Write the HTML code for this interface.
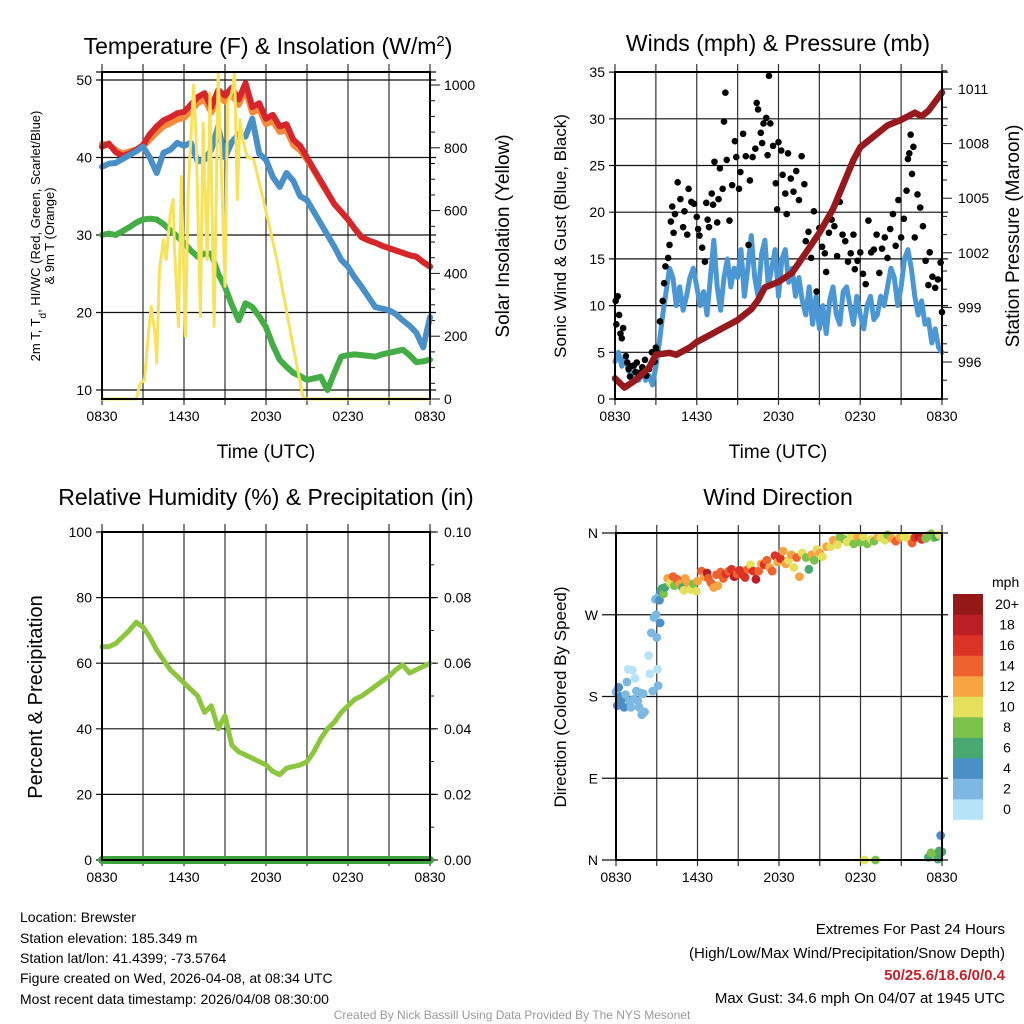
<!DOCTYPE html>
<html><head><meta charset="utf-8">
<style>
html,body{margin:0;padding:0;background:#fff;}
svg{display:block;font-family:"Liberation Sans",sans-serif;}
</style></head>
<body>
<svg id="fig" width="1024" height="1024" viewBox="0 0 1024 1024" xmlns="http://www.w3.org/2000/svg">
<rect x="0" y="0" width="1024" height="1024" fill="#fff"/>
<g id="marks"></g>
<text x="268" y="54" font-size="23" text-anchor="middle">Temperature (F) &amp; Insolation (W/m<tspan baseline-shift="super" font-size="15">2</tspan>)</text>
<text x="778" y="51" font-size="23" text-anchor="middle">Winds (mph) &amp; Pressure (mb)</text>
<text x="266" y="505" font-size="23" text-anchor="middle">Relative Humidity (%) &amp; Precipitation (in)</text>
<text x="778" y="505" font-size="23" text-anchor="middle">Wind Direction</text>
<text x="266" y="458" font-size="19" text-anchor="middle">Time (UTC)</text>
<text x="778" y="458" font-size="19" text-anchor="middle">Time (UTC)</text>
<text transform="translate(40,236) rotate(-90)" font-size="13" text-anchor="middle">2m T, T<tspan baseline-shift="sub" font-size="10">d</tspan>, HI/WC (Red, Green, Scarlet/Blue)</text>
<text transform="translate(54,236) rotate(-90)" font-size="13" text-anchor="middle">&amp; 9m T (Orange)</text>
<text transform="translate(509,236) rotate(-90)" font-size="19" text-anchor="middle">Solar Insolation (Yellow)</text>
<text transform="translate(566,236) rotate(-90)" font-size="17" text-anchor="middle">Sonic Wind &amp; Gust (Blue, Black)</text>
<text transform="translate(1019,236) rotate(-90)" font-size="19" text-anchor="middle">Station Pressure (Maroon)</text>
<text transform="translate(42,697) rotate(-90)" font-size="20" text-anchor="middle">Percent &amp; Precipitation</text>
<text transform="translate(566,697) rotate(-90)" font-size="17" text-anchor="middle">Direction (Colored By Speed)</text>
<g font-size="14">
<text x="20" y="922">Location: Brewster</text>
<text x="20" y="943">Station elevation: 185.349 m</text>
<text x="20" y="963">Station lat/lon: 41.4399; -73.5764</text>
<text x="20" y="983">Figure created on Wed, 2026-04-08, at 08:34 UTC</text>
<text x="20" y="1004">Most recent data timestamp: 2026/04/08 08:30:00</text>
</g>
<g font-size="15" text-anchor="end">
<text x="1005" y="934">Extremes For Past 24 Hours</text>
<text x="1005" y="958">(High/Low/Max Wind/Precipitation/Snow Depth)</text>
<text x="1005" y="980" fill="#c8202a" font-weight="bold">50/25.6/18.6/0/0.4</text>
<text x="1005" y="1003">Max Gust: 34.6 mph On 04/07 at 1945 UTC</text>
</g>
<text x="512" y="1019" font-size="12" fill="#999" text-anchor="middle">Created By Nick Bassill Using Data Provided By The NYS Mesonet</text>
</svg>
<script>
// ---- data ----
const timeTickLabels = ["0830","1430","2030","0230","0830"];
const tempTicks = [10,20,30,40,50];
const insolTicks = [0,200,400,600,800,1000];
const windTicks = [0,5,10,15,20,25,30,35];
const presTicks = [996,999,1002,1005,1008,1011];
const rhTicks = [0,20,40,60,80,100];
const precipTickLabels = ["0.00","0.02","0.04","0.06","0.08","0.10"];
const dirTickLabels = ["N","E","S","W","N"];
const speedLegendLabels = ["0","2","4","6","8","10","12","14","16","18","20+"];
const speedColors = ["#b6e3f8","#7cb8e2","#4a8fc6","#49a86f","#7bc24a","#e5e05b","#f6a542","#f0622d","#dd3327","#bb1e25","#951818"];

const tempRed = [41.4,41.8,40.7,40.2,40.5,41,41.6,43,44,44.8,45.2,45.7,45.9,46.8,47.8,48.3,46.5,48.7,48,49,47.5,49.6,46.5,47,45,45.5,44,44.3,42.3,41.5,40,38.5,37,35.5,34,33,32,30.8,29.7,29.3,29,28.6,28.3,28,27.7,27.4,27.2,26.5,25.9];
const temp9m = [41.8,41.6,41,40.5,40.8,41,41.4,42.3,43.2,44,44.4,44.9,45.1,46,47,47.5,45.8,47.9,47.2,48.1,46.8,48.7,45.8,46.2,44.3,44.7,43.3,43.5,41.6,40.9,39.7,38.3,36.8,35.4,34,33,32,30.8,29.7,29.3,29,28.6,28.3,28,27.7,27.4,27.2,26.5,26];
const windChill = [38.8,39.2,39.3,39.8,40.3,40.8,41.4,40,38,40.6,41,41.9,41.5,41.9,39.5,39.7,41,44,40,42,43,42.7,45,40.5,39.7,37.5,36.2,38,37,35,34.5,33,31.5,30,28.5,26.8,25.9,24.5,23.3,22,20.7,20.5,20.3,19.8,19,18.3,17.4,15.5,19.4];
const dewpoint = [30,30.2,30,30.5,31,31.6,32,32.1,32,31.4,30.6,29.8,29,28,27.2,27.6,27.6,25,23.3,21,19,21.2,20.7,19.5,18.1,15.8,13.9,13,12.2,11.8,11.3,11.5,11.7,10,12.2,14.3,14.5,14.6,14.5,14.4,14.3,14.6,14.8,15,15.2,14.5,13.6,13.7,13.9];
const insolTimes = [0,2.5,2.8,3.1,3.4,3.6,3.9,4.0,4.2,4.5,4.7,5.0,5.2,5.3,5.6,5.8,6.1,6.3,6.7,6.9,7.2,7.4,7.7,7.9,8.2,8.5,8.8,9.0,9.2,9.5,9.7,9.9,10.1,10.3,10.6,11.1,11.8,12.8,13.8,14.7,15,24];
const insolValues = [0,0,50,60,210,295,200,115,410,507,444,592,635,486,231,709,200,656,1000,815,263,879,444,975,231,1038,635,359,943,975,1038,635,890,826,773,762,635,444,210,8,0,0];
const windSpeed = [4,5,3.5,4.5,3,2.5,3,2,3,2,2.5,1.5,3.5,6,9,11.5,14,13,10,12,9.5,11,13,14,12,10,11.5,9,13,17,12,9.5,13,15,12,14,13,16,11,14,17.5,13,11,15.5,17,12,14,16,11,15,16,12.5,14,11,13,10.5,9,12,8,11,7.5,10,7,10.5,12,9,8,11.5,12,10,8,11,9,7.5,10,11,8.5,9,11,10,12,14,13,10,12,15,16,14,11,9,10.5,8,8.5,6,7.5,5.5,5];
const pressureTimes = [0,0.7,1.5,2.5,3,4,4.5,5.5,6,7,8,9,10,10.5,11,12,13,14,15,16,17,17.5,18,19,20,21,22,22.5,23,24];
const pressureValues = [995.1,994.6,995,995.7,996.4,996.5,996.4,996.8,997.1,997.5,997.9,998.3,998.9,999.4,1000.1,1000.4,1000.9,1002,1003.1,1004.4,1006.2,1007.1,1007.8,1008.4,1009,1009.3,1009.7,1009.5,1009.8,1010.8];
const gustTimes = [0.05,0.1,0.2,0.3,0.4,0.5,0.6,0.8,0.9,1.0,1.1,1.2,1.4,1.5,1.6,1.8,2.0,2.2,2.3,2.5,2.7,2.9,3.0,3.1,3.3,3.5,3.6,3.7,3.9,4.0,4.1,4.2,4.3,4.4,4.6,4.8,5.0,5.1,5.3,5.4,5.6,5.8,6.0,6.1,6.2,6.4,6.6,6.7,6.8,6.9,7.1,7.2,7.3,7.5,7.6,7.7,7.9,8.0,8.1,8.2,8.4,8.6,8.8,8.9,9.1,9.2,9.4,9.6,9.8,9.9,10.1,10.3,10.4,10.5,10.7,10.8,10.9,11.1,11.2,11.3,11.4,11.6,11.8,11.9,12.0,12.2,12.3,12.5,12.6,12.7,12.9,13.1,13.3,13.5,13.7,13.9,14.0,14.2,14.4,14.6,14.8,15.0,15.2,15.4,15.5,15.7,15.9,16.1,16.3,16.5,16.7,16.9,17.1,17.3,17.5,17.6,17.8,18.0,18.2,18.4,18.6,18.8,19.0,19.2,19.4,19.6,19.8,20.0,20.2,20.4,20.6,20.8,21.0,21.2,21.4,21.5,21.6,21.7,21.8,21.9,22.0,22.2,22.4,22.6,22.8,23.0,23.1,23.3,23.5,23.7,23.9,24.0];
const gustValues = [10.5,8,11,9,7,6.5,7.6,4.6,3.9,3.2,2.4,3.5,3.6,2.9,3.9,2.8,3.4,4.2,2.5,3.2,5,4,5.5,5,8.3,10.5,12.4,14.2,15.1,16.5,19,20.6,17.8,19.8,23.2,21.4,18.4,20.1,17.6,22.5,21.1,20.9,19.5,18.2,17.5,16.2,14.7,21,19.2,18.4,22,20.8,25.4,18.9,21.4,24.7,22.5,29.7,32.8,25.6,19.1,22.9,27.6,25.9,22.5,24.3,28.4,26,16.5,23.4,25.9,26.8,31.7,31,28.5,27.4,29.5,30.1,26.1,34.6,29.5,27.1,23.1,20.3,27.5,26.6,24,22,19.8,26.3,23.6,22.2,24.4,21.3,26,23,16.9,17.9,15.1,20.1,11.5,18.3,16.3,15.6,13.6,17.8,19.2,18.5,15.3,21.1,17.6,16.9,14.7,15.6,17.6,13.9,14.8,15.7,13.4,12.3,19.1,15.7,16,17.6,13.5,16.1,17.3,15.1,18.2,19.8,16.4,21.3,17.3,19.3,22.3,25.7,26.3,28.3,24.1,27,17.3,21.9,20.5,18.5,14.8,12.2,15.7,13.1,11.9,12.8,14.6,9.3];
const rhValues = [65,65,66,68,70,72.5,71,68,64,61,58,56,54,52,50,45,47,40,44,35,33,32,31,30,29,27,26,28,28.5,29,30,33,37,40,42,45,47,49,50,51.5,53,54.5,56,58,59.5,57,58,59,60];
const precipValues = [0,0,0,0,0,0,0,0,0,0,0,0,0,0,0,0,0,0,0,0,0,0,0,0,0];
const dirTimes = [
 0.0,0.1,0.2,0.3,0.35,0.5,0.6,0.7,0.8,0.9,
 1.0,1.1,1.2,1.3,1.4,1.5,1.6,1.7,1.8,1.9,
 2.0,2.1,2.4,2.5,2.6,2.7,2.8,2.9,2.95,3.0,
 3.05,3.1,3.15,3.2,3.25,3.3,3.4,3.5,3.6,3.8,
 4.0,4.2,4.3,4.5,4.7,4.9,5.0,5.1,5.3,5.5,
 5.7,5.9,6.0,6.3,6.5,6.7,6.8,7.0,7.2,7.4,
 7.5,7.7,7.9,8.1,8.3,8.5,8.7,8.9,9.1,9.3,
 9.5,9.7,9.9,10.1,10.3,10.5,10.7,10.9,11.1,11.3,
 11.5,11.7,11.9,12.1,12.3,12.5,12.7,12.9,13.1,13.3,
 13.5,13.7,14.0,14.2,14.4,14.6,14.8,15.0,15.2,15.5,
 15.8,16.0,16.3,16.5,16.8,17.0,17.3,17.5,17.8,18.0,
 18.2,18.5,18.8,19.0,19.3,19.5,19.8,20.0,20.3,20.6,
 20.9,21.2,21.5,21.8,22.0,22.3,22.5,22.8,23.0,23.2,
 23.4,23.6,23.8,18.3,19.1,23.0,23.2,23.5,23.7,23.8,
 23.9,24.0];
const dirValues = [
 185,170,190,180,175,178,168,182,196,210,
 175,168,209,177,200,186,175,168,184,160,
 183,163,225,205,250,186,267,287,270,245,
 210,192,290,286,261,296,299,293,300,310,
 305,312,302,309,304,300,297,310,305,298,
 304,296,307,318,312,316,310,305,300,314,
 302,317,310,315,318,320,312,315,319,314,
 311,320,325,318,309,318,326,325,330,322,
 318,335,328,332,340,326,330,336,322,333,
 312,338,333,320,336,330,342,338,334,345,
 345,352,347,356,353,350,357,348,355,350,
 356,348,353,351,356,355,352,358,354,351,
 355,356,354,349,355,356,353,354,357,359,
 355,356,358,0,0,3,8,6,1,10,
 27,9];
const dirSpeeds = [
 3,4.5,5,4,4,5,4.5,3,2,1,
 3,3.5,1.5,2.5,1,3,2.5,3,3,2,
 3,3,1,1,2,3.5,2.5,3,3.5,3,
 1,3,3.5,4,4,5,7,8,6,13,
 10,14,8,14,12,7,10,12,13,10,
 9,10,12,15,12,19,14,15,12,14,
 12,15,14,17,14,16,18,14,16,17,
 16,15,11,16,18,14,12,17,14,12,
 15,16,12,17,13,12,10,12,11,14,
 12,10,8,7,12,8,10,12,11,12,
 10,12,10,8,8,10,10,8,12,9,
 10,8,11,8,12,11,10,8,13,14,
 12,10,10,15,16,18,17,9,8,9,
 8,7,10,10,8,6,8,8,6,7,
 4,7];

// ---- scales ----
const P1 = {x0:102, x1:430, y0:72, y1:399};
const P2 = {x0:615, x1:942, y0:72, y1:399};
const P3 = {x0:102, x1:430, y0:532, y1:860};
const P4 = {x0:616, x1:942, y0:533, y1:860};
function tx(P, t){ return P.x0 + t*(P.x1-P.x0)/24; }
function yTemp(v){ return 390 - (v-10)*7.75; }
function yIns(w){ return 399 - w*0.314; }
function yWind(v){ return 399 - v*9.34; }
function yPres(p){ return 362 - (p-996)*18.2; }
function yRH(v){ return 860 - v*3.28; }
function yPrecip(v){ return 860 - v*3280; }
function yDir(d){ return 860 - d*327/360; }

const NS = "http://www.w3.org/2000/svg";
const G = document.getElementById('marks');
function mk(tag, attrs, parent){
  const e = document.createElementNS(NS, tag);
  for (const k in attrs) e.setAttribute(k, attrs[k]);
  (parent||G).appendChild(e);
  return e;
}
function pathFrom(xs, ys){
  let d = "";
  for (let i=0;i<xs.length;i++) d += (i?"L":"M") + xs[i].toFixed(1) + " " + ys[i].toFixed(1);
  return d;
}
function evenTimes(n){ const a=[]; for(let i=0;i<n;i++) a.push(i*24/(n-1)); return a; }

function vgrid(P, name){
  for (let h=0; h<=24; h+=3){
    const l = mk('line',{x1:tx(P,h),x2:tx(P,h),y1:P.y0-8,y2:P.y1+6,stroke:'#333','stroke-width':1.2});
    
    
  }
  for (let i=0;i<timeTickLabels.length;i++){
    const t = mk('text',{x:tx(P,i*6),y:P.y1+22,'font-size':14,'text-anchor':'middle'});
    t.textContent = timeTickLabels[i];
    
    
  }
}
function hline(P, y, name, ext){
  const l = mk('line',{x1:P.x0-(ext||6),x2:P.x1+6,y1:y,y2:y,stroke:'#111','stroke-width':1.2});
  
  
}
function label(x,y,txt,anchor,name,size){
  const t = mk('text',{x:x,y:y+5,'font-size':size||14,'text-anchor':anchor});
  t.textContent = txt;
  
  
}
function rtick(x,y,len,name){
  const l = mk('line',{x1:x,x2:x+len,y1:y,y2:y,stroke:'#111','stroke-width':1});
  
  
}
function box(P,name){
  const r = mk('rect',{x:P.x0,y:P.y0,width:P.x1-P.x0,height:P.y1-P.y0,fill:'none',stroke:'#000','stroke-width':2});
  
  
}
function line(xs, ys, color, w, name){
  const p = mk('path',{d:pathFrom(xs,ys),fill:'none',stroke:color,'stroke-width':w,'stroke-linejoin':'round','stroke-linecap':'round'});
  
  
  return p;
}

// Panel 1
vgrid(P1,'temperature');
tempTicks.forEach(v=>{ hline(P1,yTemp(v),'temperature-gridline'); label(P1.x0-10,yTemp(v),String(v),'end','temperature-y-tick-label'); });
hline(P1,P1.y0,'temperature-top-line');
for (let w=0; w<=1040; w+=50) rtick(P1.x1, yIns(w), w%200===0?10:5, 'insolation-tick');
insolTicks.forEach(w=>label(P1.x1+14,yIns(w),String(w),'start','insolation-y-tick-label'));
line(evenTimes(temp9m.length).map(t=>tx(P1,t)), temp9m.map(yTemp), '#f58a3a', 6, 'series-9m-temperature');
line(evenTimes(tempRed.length).map(t=>tx(P1,t)), tempRed.map(yTemp), '#d7262b', 6, 'series-2m-temperature');
line(evenTimes(windChill.length).map(t=>tx(P1,t)), windChill.map(yTemp), '#4a90c8', 6, 'series-wind-chill');
line(evenTimes(dewpoint.length).map(t=>tx(P1,t)), dewpoint.map(yTemp), '#45ad45', 6, 'series-dewpoint');
line(insolTimes.map(t=>tx(P1,t)), insolValues.map(v=>yIns(Math.min(v,1041))), '#f7e25c', 3, 'series-solar-insolation');
box(P1,'temperature-plot-frame');

// Panel 2
vgrid(P2,'winds');
windTicks.forEach(v=>{ hline(P2,yWind(v),'wind-gridline'); label(P2.x0-10,yWind(v),String(v),'end','wind-y-tick-label'); });
for (let p=995; p<=1012; p++) rtick(P2.x1, yPres(p), (p%3===0)?10:5, 'pressure-tick');
presTicks.forEach(p=>label(P2.x1+16,yPres(p),String(p),'start','pressure-y-tick-label'));
line(evenTimes(windSpeed.length).map(t=>tx(P2,t)), windSpeed.map(yWind), '#4b97d3', 5, 'series-sonic-wind');
for (let i=0;i<Math.min(gustTimes.length,gustValues.length);i++){
  const c = mk('circle',{cx:tx(P2,gustTimes[i]),cy:yWind(gustValues[i]),r:3.3,fill:'#000'});
  
  
}
line(pressureTimes.map(t=>tx(P2,t)), pressureValues.map(yPres), '#961a1d', 6.5, 'series-station-pressure');
box(P2,'winds-plot-frame');

// Panel 3
vgrid(P3,'humidity');
rhTicks.forEach((v,i)=>{ hline(P3,yRH(v),'humidity-gridline'); label(P3.x0-10,yRH(v),String(v),'end','humidity-y-tick-label'); label(P3.x1+14,yRH(v),precipTickLabels[i],'start','precip-y-tick-label'); rtick(P3.x1,yRH(v),8,'precip-tick'); });
for (let v=10; v<100; v+=20) rtick(P3.x1,yRH(v),4,'precip-minor-tick');
line(evenTimes(rhValues.length).map(t=>tx(P3,t)), rhValues.map(yRH), '#8cc63f', 5, 'series-relative-humidity');
line(evenTimes(precipValues.length).map(t=>tx(P3,t)), precipValues.map(yPrecip), '#3fa33f', 8, 'series-precipitation');
box(P3,'humidity-plot-frame');

// Panel 4
vgrid(P4,'direction');
[0,90,180,270,360].forEach((d,i)=>{ hline(P4,yDir(d),'direction-gridline',14); label(P4.x0-18,yDir(d),dirTickLabels[i],'end','direction-y-tick-label'); });
const nDir = Math.min(dirTimes.length, dirValues.length);
for (let i=0;i<nDir;i++){
  const s = dirSpeeds[i] !== undefined ? dirSpeeds[i] : 8;
  const ci = Math.max(0, Math.min(10, Math.floor(s/2)));
  const c = mk('circle',{cx:tx(P4,dirTimes[i]),cy:yDir(dirValues[i]),r:4.4,fill:speedColors[ci]});
  
  
}
box(P4,'direction-plot-frame');
const cbTitle = mk('text',{x:992,y:587,'font-size':14,'text-anchor':'start'});
cbTitle.textContent = 'mph';


for (let i=0;i<speedColors.length;i++){
  const y = 594 + (10-i)*20.5;
  const r = mk('rect',{x:953,y:y,width:30,height:20.8,fill:speedColors[i]});
  
  
  const t = mk('text',{x:1007,y:y+15,'font-size':14,'text-anchor':'middle'});
  t.textContent = speedLegendLabels[i];
  
  
}
</script>
</body></html>
